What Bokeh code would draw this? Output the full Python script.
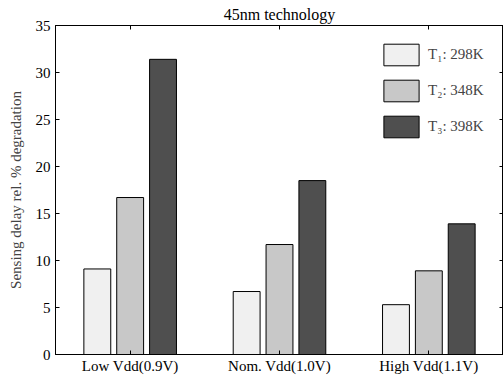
from bokeh.plotting import figure
from bokeh.models import (Range1d, LinearAxis, FixedTicker,
                          Legend, LegendItem, ColumnDataSource)
from bokeh.transform import dodge
from bokeh.embed import file_html
from bokeh.resources import INLINE

categories = ["Low Vdd(0.9V)", "Nom. Vdd(1.0V)", "High Vdd(1.1V)"]
t1_298K = [9.1, 6.7, 5.3]
t2_348K = [16.7, 11.7, 8.9]
t3_398K = [31.4, 18.5, 13.9]
series_labels = ["T\u2081: 298K", "T\u2082: 348K", "T\u2083: 398K"]
y_ticks = [0, 5, 10, 15, 20, 25, 30, 35]

colors = ["#f0f0f0", "#c8c8c8", "#4f4f4f"]
FONT = "Liberation Serif"

pos = [i + 1 for i in range(len(categories))]
src = ColumnDataSource(dict(x=pos, t1=t1_298K, t2=t2_348K, t3=t3_398K))

p = figure(x_range=Range1d(0.5, len(categories) + 0.5),
           y_range=Range1d(0, 35),
           width=503, height=379,
           output_backend="svg", toolbar_location=None,
           min_border_left=55, min_border_top=25, min_border_bottom=25, min_border_right=0,
           title="45nm technology")

p.title.align = "center"
p.title.text_font = FONT
p.title.text_font_size = "16px"
p.title.text_font_style = "normal"
p.title.text_color = "black"
p.title.standoff = 6

renderers = []
for key, off, col in zip(["t1", "t2", "t3"], [-0.22, 0.0, 0.22], colors):
    r = p.vbar(x=dodge("x", off), top=key, width=0.18, source=src,
               fill_color=col, line_color="black", line_width=1)
    renderers.append(r)

p.xgrid.visible = False
p.ygrid.visible = False
p.outline_line_color = "black"
p.outline_line_width = 1
p.background_fill_color = "white"
p.border_fill_color = "white"

for ax in [p.xaxis[0], p.yaxis[0]]:
    ax.major_label_text_font = FONT
    ax.major_label_text_font_size = "15px"
    ax.major_label_text_color = "black"
    ax.axis_line_color = "black"
    ax.major_tick_line_color = "black"
    ax.major_tick_in = 4
    ax.major_tick_out = 0
    ax.minor_tick_line_color = None

p.xaxis[0].ticker = FixedTicker(ticks=pos)
p.xaxis[0].major_label_overrides = {x: c for x, c in zip(pos, categories)}
p.xaxis[0].major_label_standoff = 3
p.yaxis[0].ticker = FixedTicker(ticks=y_ticks)
p.yaxis[0].major_label_standoff = 5
p.yaxis[0].axis_label = "Sensing delay rel. % degradation"
p.yaxis[0].axis_label_text_font = FONT
p.yaxis[0].axis_label_text_font_size = "15px"
p.yaxis[0].axis_label_text_font_style = "normal"
p.yaxis[0].axis_label_standoff = 9

top_ax = LinearAxis(ticker=FixedTicker(ticks=pos),
                    major_label_overrides={x: "" for x in pos},
                    major_tick_in=4, major_tick_out=0, major_label_standoff=0,
                    minor_tick_line_color=None, axis_line_color="black",
                    major_tick_line_color="black")
p.add_layout(top_ax, "above")
right_ax = LinearAxis(ticker=FixedTicker(ticks=y_ticks),
                      major_label_overrides={t: "" for t in y_ticks},
                      major_tick_in=4, major_tick_out=0, major_label_standoff=0,
                      minor_tick_line_color=None, axis_line_color="black",
                      major_tick_line_color="black")
p.add_layout(right_ax, "right")

legend = Legend(items=[LegendItem(label=l, renderers=[r]) for l, r in zip(series_labels, renderers)],
                location=(324, 214), glyph_width=44, glyph_height=27, spacing=9,
                padding=0, margin=0, label_standoff=5, label_text_font=FONT,
                label_text_font_size="15px", border_line_color=None,
                background_fill_alpha=0)
p.add_layout(legend, "center")

open("out.html", "w").write(file_html(p, INLINE))
